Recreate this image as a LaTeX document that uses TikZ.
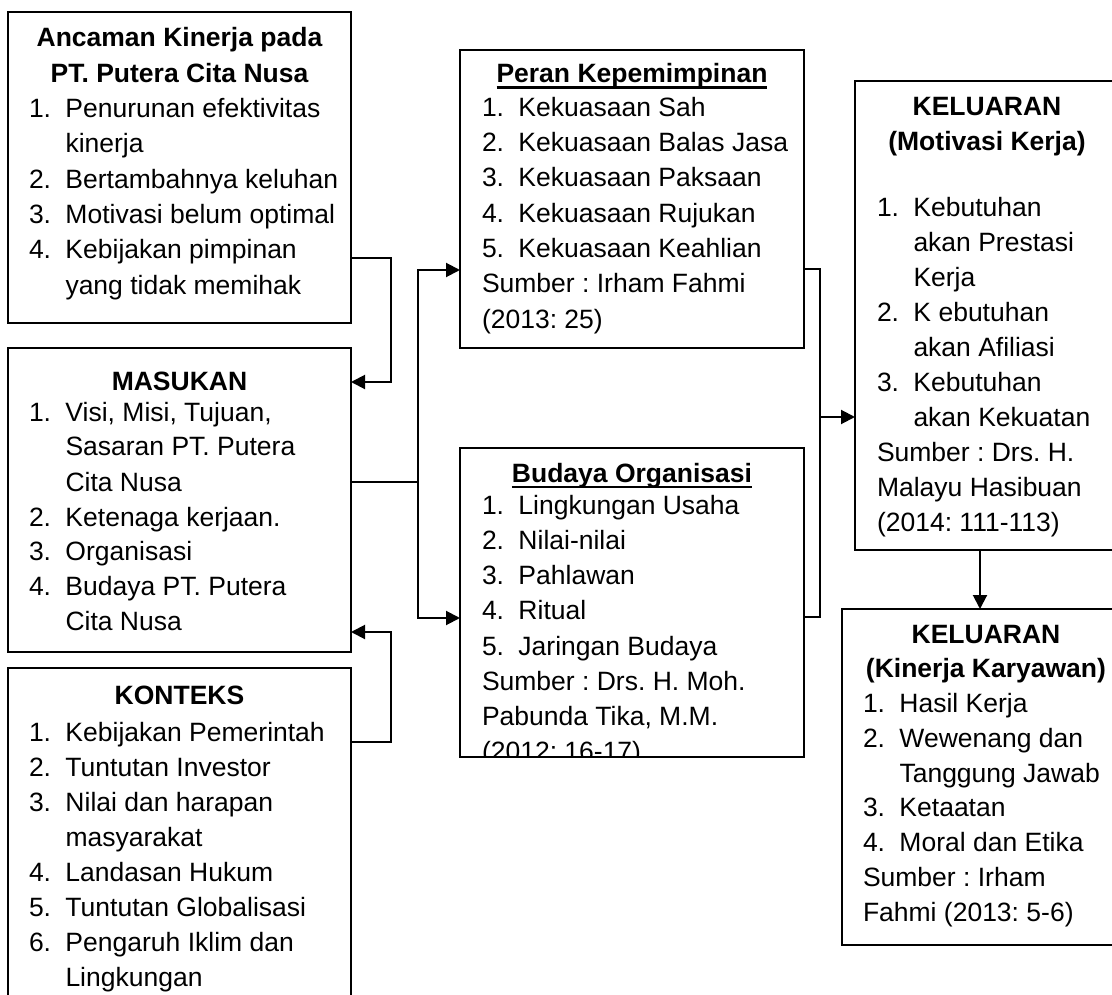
\documentclass[tikz,border=0pt]{standalone}
\usepackage{fontspec}
\setmainfont{Liberation Sans}
\usetikzlibrary{arrows.meta}
\frenchspacing
\newcommand\myitem[2]{\makebox[36.5pt][l]{#1}#2}
\newcommand\myitemcont[1]{\hspace*{36.5pt}#1}
\newcommand\myul[1]{\setbox0\hbox{#1}\rlap{\rule[-6pt]{\wd0}{2.5pt}}\box0}
\newcommand\ttl[2]{\makebox[#1][c]{\bfseries #2}}
\newcommand\ulttl[2]{\makebox[#1][c]{\bfseries\myul{#2}}}
\newcommand\boxtext[2]{\parbox[t]{600pt}{\raggedright\frenchspacing\fontsize{26.5}{#1}\selectfont #2}}
\begin{document}
\begin{tikzpicture}[x=1pt,y=-1pt,
  box/.style={draw, line width=2pt, inner sep=0pt, outer sep=0pt, anchor=north west},
  txt/.style={anchor=base west, inner sep=0pt, outer sep=0pt},
  conn/.style={line width=2pt},
  arrow/.style={line width=2pt, -{Triangle[length=14pt,width=14pt]}}]
\useasboundingbox (0,0) rectangle (1112,995);
% boxes
\node[box, minimum width=343pt, minimum height=311pt] (ancaman) at (8,12) {};
\node[box, minimum width=343pt, minimum height=304pt] (masukan) at (8,348) {};
\node[box, minimum width=343pt, minimum height=360pt] (konteks) at (8,668) {};
\node[box, minimum width=344pt, minimum height=298pt] (peran) at (460,50) {};
\node[box, minimum width=344pt, minimum height=309pt] (budaya) at (460,448) {};
\node[box, minimum width=280pt, minimum height=469pt] (motivasi) at (855,81) {};
\node[box, minimum width=290pt, minimum height=336pt] (kinerja) at (842,609) {};
% texts
\node[txt] (ancamanText) at (29,47) {\boxtext{35.3}{%
\ttl{301pt}{Ancaman Kinerja pada}\\
\ttl{301pt}{PT. Putera Cita Nusa}\\
\myitem{1.}{Penurunan efektivitas}\\
\myitemcont{kinerja}\\
\myitem{2.}{Bertambahnya keluhan}\\
\myitem{3.}{Motivasi belum optimal}\\
\myitem{4.}{Kebijakan pimpinan}\\
\myitemcont{yang tidak memihak}}};
\node[txt] (masukanText) at (29,390) {\boxtext{35}{%
\ttl{301pt}{MASUKAN}\\[-4pt]
\myitem{1.}{Visi, Misi, Tujuan,}\\
\myitemcont{Sasaran PT. Putera}\\
\myitemcont{Cita Nusa}\\
\myitem{2.}{Ketenaga kerjaan.}\\
\myitem{3.}{Organisasi}\\
\myitem{4.}{Budaya PT. Putera}\\
\myitemcont{Cita Nusa}}};
\node[txt] (konteksText) at (29,704) {\boxtext{35}{%
\ttl{301pt}{KONTEKS}\\[2pt]
\myitem{1.}{Kebijakan Pemerintah}\\
\myitem{2.}{Tuntutan Investor}\\
\myitem{3.}{Nilai dan harapan}\\
\myitemcont{masyarakat}\\
\myitem{4.}{Landasan Hukum}\\
\myitem{5.}{Tuntutan Globalisasi}\\
\myitem{6.}{Pengaruh Iklim dan}\\
\myitemcont{Lingkungan}}};
\node[txt] (peranText) at (482,83) {\boxtext{35.3}{%
\ulttl{300pt}{Peran Kepemimpinan}\\[-2pt]
\myitem{1.}{Kekuasaan Sah}\\
\myitem{2.}{Kekuasaan Balas Jasa}\\
\myitem{3.}{Kekuasaan Paksaan}\\
\myitem{4.}{Kekuasaan Rujukan}\\
\myitem{5.}{Kekuasaan Keahlian}\\
Sumber : Irham Fahmi\\
(2013: 25)}};
\begin{scope}
\clip (budaya.south west) rectangle (budaya.north east);
\node[txt] (budayaText) at (482,482) {\boxtext{35.2}{%
\ulttl{300pt}{Budaya Organisasi}\\[-3pt]
\myitem{1.}{Lingkungan Usaha}\\
\myitem{2.}{Nilai-nilai}\\
\myitem{3.}{Pahlawan}\\
\myitem{4.}{Ritual}\\
\myitem{5.}{Jaringan Budaya}\\
Sumber : Drs. H. Moh.\\
Pabunda Tika, M.M.\\
(2012: 16-17)}};
\end{scope}
\node[txt] (motivasiText) at (877,116) {\boxtext{35}{%
\ttl{220pt}{KELUARAN}\\
\ttl{220pt}{(Motivasi Kerja)}\\[31pt]
\myitem{1.}{Kebutuhan}\\
\myitemcont{akan Prestasi}\\
\myitemcont{Kerja}\\
\myitem{2.}{K ebutuhan}\\
\myitemcont{akan Afiliasi}\\
\myitem{3.}{Kebutuhan}\\
\myitemcont{akan Kekuatan}\\
Sumber : Drs. H.\\
Malayu Hasibuan\\
(2014: 111-113)}};
\node[txt] (kinerjaText) at (863,643) {\boxtext{34.75}{%
\ttl{246pt}{KELUARAN}\\
\ttl{246pt}{(Kinerja Karyawan)}\\
\myitem{1.}{Hasil Kerja}\\
\myitem{2.}{Wewenang dan}\\
\myitemcont{Tanggung Jawab}\\
\myitem{3.}{Ketaatan}\\
\myitem{4.}{Moral dan Etika}\\
Sumber : Irham\\
Fahmi (2013: 5-6)}};
% connectors
\coordinate (aR) at ([yshift=65pt]ancaman.south east);
\coordinate (mTop) at ([yshift=-34pt]masukan.north east);
\draw[arrow] (aR) -- ++(40,0) |- (mTop);
\coordinate (kR) at ([yshift=-74pt]konteks.north east);
\coordinate (mBot) at ([yshift=20pt]masukan.south east);
\draw[arrow] (kR) -- ++(40,0) |- (mBot);
\coordinate (mR) at ([yshift=-134pt]masukan.north east);
\coordinate (sp) at ([xshift=67pt]mR);
\draw[conn] (mR) -- (sp);
\draw[arrow] (sp) |- ([yshift=-220pt]peran.north west);
\draw[arrow] (sp) |- ([yshift=-170pt]budaya.north west);
\coordinate (pR) at ([yshift=-219pt]peran.north east);
\coordinate (pJ) at ([xshift=16pt]pR);
\coordinate (bR) at ([yshift=-169pt]budaya.north east);
\coordinate (mL) at ([yshift=-336pt]motivasi.north west);
\draw[conn] (pR) -- (pJ) |- (bR);
\draw[arrow] (pJ |- mL) -- (mL);
\coordinate (moB) at ([xshift=125pt]motivasi.south west);
\draw[arrow] (moB) -- (moB |- kinerja.north);
\end{tikzpicture}
\end{document}
